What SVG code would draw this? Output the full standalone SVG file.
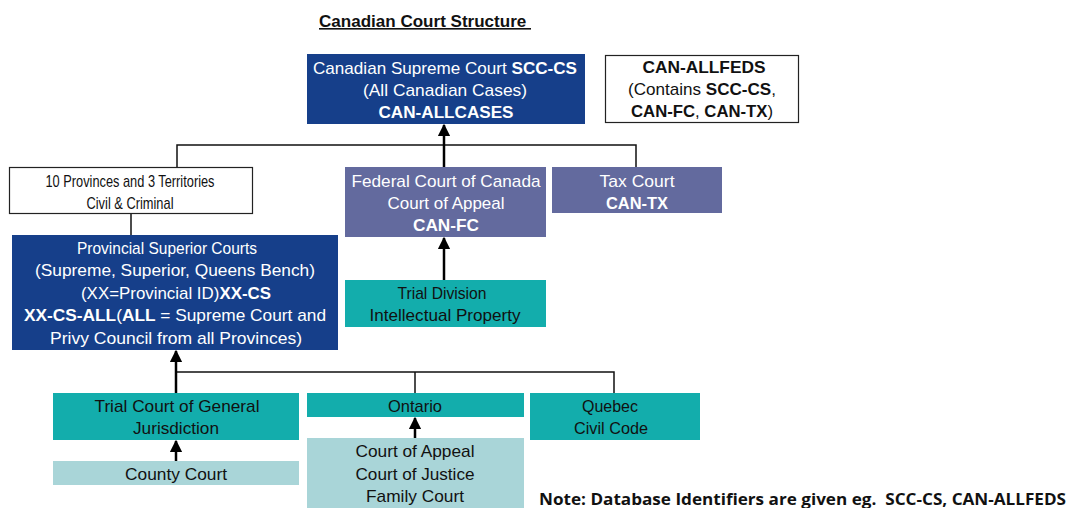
<svg xmlns="http://www.w3.org/2000/svg" width="1076" height="508" viewBox="0 0 1076 508">
<style>
text{font-family:"Liberation Sans",Arial,sans-serif;font-size:17px;text-anchor:middle;fill:#111}
.w{fill:#fff}
.b{font-weight:bold}
.dark{fill:#163f8a}
.purple{fill:#636a9e}
.teal{fill:#13adac}
.light{fill:#a9d5d8}
.white{fill:#fff;stroke:#222;stroke-width:1.2}
.line{fill:none;stroke:#111;stroke-width:1.5}
.arr{fill:none;stroke:#000;stroke-width:2.5}
</style>
<defs>
<marker id="ah" viewBox="0 0 10 10" refX="9" refY="5" markerWidth="5" markerHeight="5" markerUnits="strokeWidth" orient="auto">
<path d="M0,0 L10,5 L0,10 z" fill="#000"/>
</marker>
</defs>
<text x="319" y="27" class="b" style="text-anchor:start;font-size:16px;text-decoration:underline" textLength="212" lengthAdjust="spacingAndGlyphs">Canadian Court Structure&#160;</text>
<g id="connectors">
<polyline class="line" points="177,168 177,145 636,145 636,168"/>
<line class="arr" x1="444" y1="168" x2="444" y2="125" marker-end="url(#ah)"/>
<line class="line" x1="131" y1="214" x2="131" y2="235"/>
<line class="arr" x1="444" y1="280" x2="444" y2="238" marker-end="url(#ah)"/>
<polyline class="line" points="176,372 614,372 614,393"/>
<line class="line" x1="415" y1="372" x2="415" y2="393"/>
<line class="arr" x1="176" y1="393" x2="176" y2="351" marker-end="url(#ah)"/>
<line class="arr" x1="176" y1="461" x2="176" y2="441" marker-end="url(#ah)"/>
<line class="arr" x1="415" y1="438" x2="415" y2="418" marker-end="url(#ah)"/>
</g>
<g id="scc">
<rect class="dark" x="307" y="54" width="278" height="70"/>
<text class="w" x="445" y="74" textLength="264" lengthAdjust="spacingAndGlyphs">Canadian Supreme Court<tspan class="b"> SCC-CS</tspan></text>
<text class="w" x="445" y="96" textLength="164" lengthAdjust="spacingAndGlyphs">(All Canadian Cases)</text>
<text class="w b" x="446" y="118" textLength="135" lengthAdjust="spacingAndGlyphs">CAN-ALLCASES</text>
</g>
<g id="allfeds">
<rect class="white" x="605.5" y="55.5" width="193" height="67"/>
<text class="b" x="704" y="73" textLength="123" lengthAdjust="spacingAndGlyphs">CAN-ALLFEDS</text>
<text x="702" y="95" textLength="148" lengthAdjust="spacingAndGlyphs">(Contains <tspan class="b">SCC-CS</tspan>,</text>
<text x="702" y="117" textLength="142" lengthAdjust="spacingAndGlyphs"><tspan class="b">CAN-FC</tspan>, <tspan class="b">CAN-TX</tspan>)</text>
</g>
<g id="provinces">
<rect class="white" x="9.5" y="167.5" width="243" height="46"/>
<text x="130" y="187" textLength="169" lengthAdjust="spacingAndGlyphs">10 Provinces and 3 Territories</text>
<text x="130" y="209" textLength="87" lengthAdjust="spacingAndGlyphs">Civil &amp; Criminal</text>
</g>
<g id="fc">
<rect class="purple" x="345" y="167" width="201" height="70"/>
<text class="w" x="446" y="187" textLength="189" lengthAdjust="spacingAndGlyphs">Federal Court of Canada</text>
<text class="w" x="446" y="209" textLength="117" lengthAdjust="spacingAndGlyphs">Court of Appeal</text>
<text class="w b" x="446" y="231" textLength="66" lengthAdjust="spacingAndGlyphs">CAN-FC</text>
</g>
<g id="tax">
<rect class="purple" x="552" y="167" width="170" height="46"/>
<text class="w" x="637" y="187" textLength="75" lengthAdjust="spacingAndGlyphs">Tax Court</text>
<text class="w b" x="637" y="209" textLength="62" lengthAdjust="spacingAndGlyphs">CAN-TX</text>
</g>
<g id="superior">
<rect class="dark" x="12" y="235" width="326" height="115"/>
<text class="w" x="167" y="254" textLength="180" lengthAdjust="spacingAndGlyphs">Provincial Superior Courts</text>
<text class="w" x="175" y="276" textLength="280" lengthAdjust="spacingAndGlyphs">(Supreme, Superior, Queens Bench)</text>
<text class="w" x="176" y="299" textLength="190" lengthAdjust="spacingAndGlyphs">(XX=Provincial ID)<tspan class="b">XX-CS</tspan></text>
<text class="w" x="175" y="321" textLength="302" lengthAdjust="spacingAndGlyphs"><tspan class="b">XX-CS-ALL</tspan>(<tspan class="b">ALL</tspan> = Supreme Court and</text>
<text class="w" x="176" y="344" textLength="252" lengthAdjust="spacingAndGlyphs">Privy Council from all Provinces)</text>
</g>
<g id="trialdiv">
<rect class="teal" x="345" y="280" width="201" height="47"/>
<text x="442" y="299" textLength="89" lengthAdjust="spacingAndGlyphs">Trial Division</text>
<text x="445" y="321" textLength="151" lengthAdjust="spacingAndGlyphs">Intellectual Property</text>
</g>
<g id="trialgen">
<rect class="teal" x="53" y="393" width="246" height="47"/>
<text x="177" y="412" textLength="165" lengthAdjust="spacingAndGlyphs">Trial Court of General</text>
<text x="176" y="434" textLength="86" lengthAdjust="spacingAndGlyphs">Jurisdiction</text>
</g>
<g id="county">
<rect class="light" x="53" y="461" width="246" height="24"/>
<text x="176" y="480" textLength="102" lengthAdjust="spacingAndGlyphs">County Court</text>
</g>
<g id="ontario">
<rect class="teal" x="307" y="393" width="217" height="24"/>
<text x="415" y="412" textLength="54" lengthAdjust="spacingAndGlyphs">Ontario</text>
</g>
<g id="ontcourts">
<rect class="light" x="307" y="438" width="217" height="70"/>
<text x="415" y="457" textLength="119" lengthAdjust="spacingAndGlyphs">Court of Appeal</text>
<text x="415" y="480" textLength="119" lengthAdjust="spacingAndGlyphs">Court of Justice</text>
<text x="415" y="502" textLength="98" lengthAdjust="spacingAndGlyphs">Family Court</text>
</g>
<g id="quebec">
<rect class="teal" x="530" y="393" width="170" height="47"/>
<text x="610" y="412" textLength="56" lengthAdjust="spacingAndGlyphs">Quebec</text>
<text x="611" y="434" textLength="74" lengthAdjust="spacingAndGlyphs">Civil Code</text>
</g>
<text x="539" y="505" style="text-anchor:start;font-family:'Open Sans','Liberation Sans',sans-serif;font-weight:bold;font-size:16px" textLength="527" lengthAdjust="spacingAndGlyphs">Note: Database Identifiers are given eg.&#160; SCC-CS, CAN-ALLFEDS</text>
</svg>
